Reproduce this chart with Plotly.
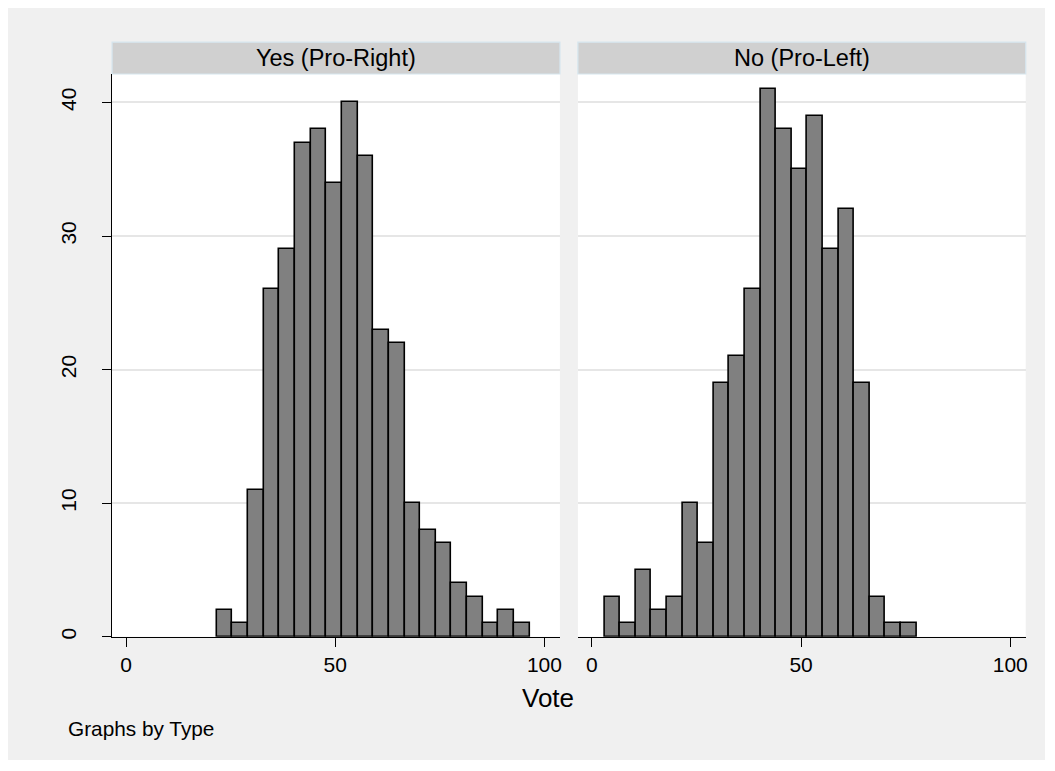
import plotly.graph_objects as go

# ---- data ----
panel_titles = ["Yes (Pro-Right)", "No (Pro-Left)"]
yes_counts = [2, 1, 11, 26, 29, 37, 38, 34, 40, 36, 23, 22, 10, 8, 7, 4, 3, 1, 2, 1]
no_counts = [3, 1, 5, 2, 3, 10, 7, 19, 21, 26, 41, 38, 35, 39, 29, 32, 19, 3, 1, 1]
yes_bin_start, yes_bin_width = 21.7, 3.74
no_bin_start, no_bin_width = 3.0, 3.73
x_ticks = [0, 50, 100]
y_ticks = [0, 10, 20, 30, 40]
x_title = "Vote"
note = "Graphs by Type"

W, H = 1055, 771
FONT = "Liberation Sans, Arial, sans-serif"

def centers(start, width, n):
    return [start + width * (i + 0.5) for i in range(n)]

fig = go.Figure()
for i, (counts, start, width) in enumerate(
        [(yes_counts, yes_bin_start, yes_bin_width), (no_counts, no_bin_start, no_bin_width)]):
    fig.add_trace(go.Bar(
        x=centers(start, width, len(counts)), y=counts, width=width,
        marker=dict(color="#808080", line=dict(color="black", width=1.6)),
        xaxis="x" if i == 0 else "x2", yaxis="y" if i == 0 else "y2",
        showlegend=False, hoverinfo="x+y"))

def px(x):
    return x / W

def py(y):
    return 1 - y / H

top, bottom = 74.3, 639.3
xdom1 = [px(112.3), px(561)]
xdom2 = [px(579), px(1027.7)]
ydom = [py(bottom), py(top)]
xr = [-3.34, 103.7]
yr = [0, 42.13]

tickfont = dict(family=FONT, size=21, color="black")
xcommon = dict(range=xr, tickvals=x_ticks, ticks="outside", ticklen=9, tickwidth=1.3,
               tickcolor="black", showline=True, linecolor="black", linewidth=1.3,
               showgrid=False, zeroline=False, tickfont=tickfont, fixedrange=True)
fig.update_layout(
    width=W, height=H,
    margin=dict(l=0, r=0, t=0, b=0),
    paper_bgcolor="white", plot_bgcolor="rgba(0,0,0,0)",
    bargap=0,
    xaxis=dict(domain=xdom1, anchor="y", **xcommon),
    xaxis2=dict(domain=xdom2, anchor="y2", **xcommon),
    yaxis=dict(domain=ydom, anchor="x", range=yr, tickvals=y_ticks, ticks="outside",
               ticklen=9, tickwidth=1.3, tickcolor="black", showline=True,
               linecolor="black", linewidth=1.3, showgrid=True, gridcolor="#e6e6e6",
               gridwidth=1.5, zeroline=False, tickangle=-90, tickfont=tickfont,
               ticklabelstandoff=18, fixedrange=True),
    yaxis2=dict(domain=ydom, anchor="x2", range=yr, tickvals=y_ticks, showticklabels=False,
                ticks="", showline=False, showgrid=True, gridcolor="#e6e6e6",
                gridwidth=1.5, zeroline=False, fixedrange=True),
)

shapes = [
    dict(type="rect", xref="paper", yref="paper", x0=px(8), x1=px(1047), y0=py(763), y1=py(8),
         fillcolor="#f0f0f0", line=dict(width=0), layer="below"),
]
for dom in [xdom1, xdom2]:
    shapes.append(dict(type="rect", xref="paper", yref="paper", x0=dom[0], x1=dom[1],
                       y0=ydom[0], y1=ydom[1], fillcolor="white",
                       line=dict(width=0), layer="below"))
for dom in [xdom1, xdom2]:
    shapes.append(dict(type="rect", xref="paper", yref="paper", x0=dom[0], x1=dom[1],
                       y0=py(74.3), y1=py(42.3), fillcolor="#d0d0d0",
                       line=dict(color="#d5e5ee", width=1.2), layer="below"))
fig.update_layout(shapes=shapes)

annotations = []
for dom, title in zip([xdom1, xdom2], panel_titles):
    annotations.append(dict(text=title, xref="paper", yref="paper", x=(dom[0] + dom[1]) / 2,
                            y=py(58.3), xanchor="center", yanchor="middle", showarrow=False,
                            font=dict(family=FONT, size=23.5, color="black")))
annotations.append(dict(text=x_title, xref="paper", yref="paper", x=px(549), y=py(701),
                        xanchor="center", yanchor="middle", showarrow=False,
                        font=dict(family=FONT, size=26, color="black")))
annotations.append(dict(text=note, xref="paper", yref="paper", x=px(66.5), y=py(731),
                        xanchor="left", yanchor="middle", showarrow=False,
                        font=dict(family=FONT, size=20.8, color="black")))
fig.update_layout(annotations=annotations)

fig.write_html("out.html")
